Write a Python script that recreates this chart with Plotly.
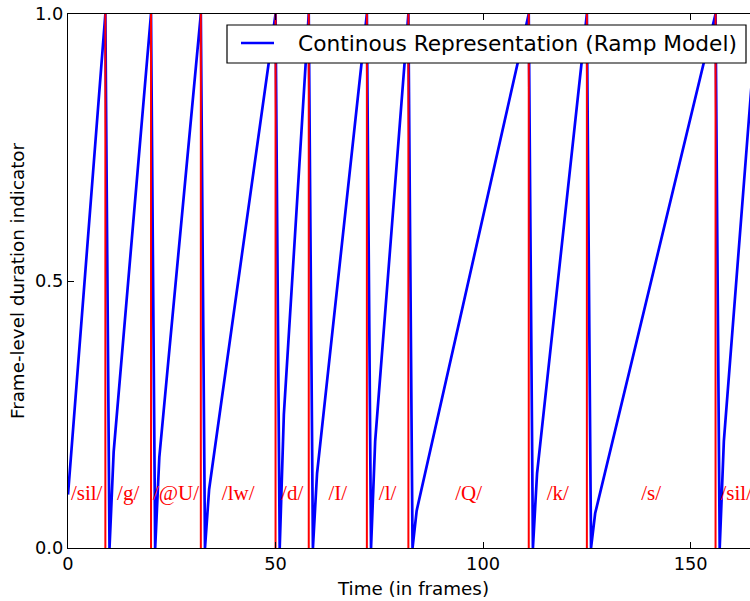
import plotly.graph_objects as go

# Ramp (blue) vertices: frame index and indicator value
ramp_frames = [0, 9, 10, 11, 20, 21, 22, 32, 33, 34, 50, 51, 52, 58, 59, 60,
               72, 73, 74, 82, 83, 84, 111, 112, 113, 125, 126, 127, 156, 157,
               158, 166]
ramp_values = [0.10, 1.0, 0.0, 0.18, 1.0, 0.0, 0.17, 1.0, 0.0, 0.11, 1.0, 0.0,
               0.25, 1.0, 0.0, 0.14, 1.0, 0.0, 0.20, 1.0, 0.0, 0.07, 1.0, 0.0,
               0.14, 1.0, 0.0, 0.065, 1.0, 0.0, 0.20, 1.0]

# Phone boundaries (red vertical lines), in frames
boundaries = [9, 20, 32, 50, 58, 72, 82, 111, 125, 156]
# Phone labels and their segment extents
phones = ["/sil/", "/g/", "/@U/", "/lw/", "/d/", "/I/", "/l/", "/Q/", "/k/", "/s/", "/sil/"]
seg_edges = [0, 9, 20, 32, 50, 58, 72, 82, 111, 125, 156, 166]
label_y = 0.1

x_ticks = [0, 50, 100, 150]
y_ticks = [0.0, 0.5, 1.0]
y_tick_labels = ["0.0", "0.5", "1.0"]
legend_text = "Continous Representation (Ramp Model)"

L, T, B = 68, 14, 53
W, H = 750, 601
PW, PH = W - L, H - B - T


def px_x(p):
    return (p - L) / PW


def px_y(p):
    return (H - B - p) / PH


fig = go.Figure()

fig.add_trace(go.Scatter(
    x=ramp_frames, y=ramp_values, mode="lines",
    line=dict(color="#0000ff", width=2.7),
    name=legend_text, showlegend=False,
))

bx, by = [], []
for b in boundaries:
    bx += [b, b, None]
    by += [0, 1, None]
fig.add_trace(go.Scatter(
    x=bx, y=by, mode="lines", line=dict(color="#ff0000", width=2),
    showlegend=False, hoverinfo="skip",
))

mids = [(seg_edges[i] + seg_edges[i + 1]) / 2 for i in range(len(phones))]
fig.add_trace(go.Scatter(
    x=mids, y=[label_y] * len(phones), mode="text", text=phones,
    textposition="middle center",
    textfont=dict(family="Liberation Serif", size=21, color="#ff0000"),
    showlegend=False, hoverinfo="skip", cliponaxis=False,
))

tick_font = dict(family="DejaVu Sans", size=17.8, color="black")
title_font = dict(family="DejaVu Sans", size=18.3, color="black")

fig.update_xaxes(
    range=[0, 164.3], tickvals=x_ticks, ticks="inside", ticklen=6,
    tickcolor="black", tickwidth=1, showline=True, linecolor="black",
    linewidth=1.2, mirror="ticks", showgrid=False, zeroline=False,
    tickfont=tick_font,
)
fig.update_yaxes(
    range=[0, 1], tickvals=y_ticks, ticktext=y_tick_labels, ticks="inside",
    ticklen=6, tickcolor="black", tickwidth=1, showline=True,
    linecolor="black", linewidth=1.2, mirror=False, showgrid=False,
    zeroline=False, tickfont=tick_font,
    title=dict(text="Frame-level duration indicator", font=title_font, standoff=5),
)

fig.add_annotation(
    text="Time (in frames)", xref="paper", yref="paper",
    x=px_x(413), y=px_y(588),
    xanchor="center", yanchor="middle", showarrow=False, font=title_font,
)

# Legend box (drawn to match the reference layout)
fig.add_shape(type="rect", xref="paper", yref="paper",
              x0=px_x(227), x1=px_x(746), y0=px_y(63), y1=px_y(25),
              line=dict(color="black", width=1.2), fillcolor="white", layer="above")
fig.add_shape(type="line", xref="paper", yref="paper",
              x0=px_x(241), x1=px_x(274), y0=px_y(43), y1=px_y(43),
              line=dict(color="#0000ff", width=2.7), layer="above")
fig.add_annotation(
    text=legend_text, xref="paper", yref="paper",
    x=px_x(296), y=px_y(43.5), xanchor="left", yanchor="middle",
    showarrow=False, font=dict(family="DejaVu Sans", size=21.7, color="black"),
)

fig.update_layout(
    width=W, height=H,
    margin=dict(l=L, r=0, t=T, b=B),
    paper_bgcolor="white", plot_bgcolor="white",
    font=dict(family="DejaVu Sans"),
    showlegend=False,
)

fig.write_html("out.html")
